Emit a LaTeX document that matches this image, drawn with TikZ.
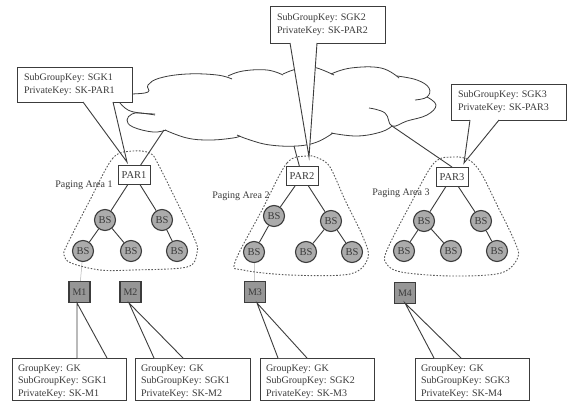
\documentclass[tikz,border=0pt]{standalone}
\usepackage{fontspec}
\setmainfont{Liberation Serif}
\usetikzlibrary{calc}
\frenchspacing
\definecolor{ink}{HTML}{3C3C3C}
\definecolor{txt}{HTML}{3A3A3A}
\definecolor{bsfill}{HTML}{ABABAB}
\definecolor{mfill}{HTML}{969696}
\newcommand{\topstrut}{\rule{0pt}{11.8pt}}
\tikzset{
  base/.style={font=\fontsize{10}{12.8}\selectfont,text=txt},
  link/.style={draw=ink,line width=0.9pt},
  faint/.style={draw=black!30,line width=0.5pt},
  cloudline/.style={draw=ink,line width=0.8pt},
  area/.style={draw=ink!85,line width=0.9pt,dash pattern=on 1.6pt off 1.6pt},
  parbox/.style={base,draw=ink,line width=1pt,fill=white,minimum width=32pt,minimum height=19pt,inner sep=0pt,font=\fontsize{10.5}{12}\selectfont},
  bsnode/.style={base,circle,draw=ink,line width=1.1pt,fill=bsfill,minimum size=21pt,inner sep=0pt,font=\fontsize{10.5}{12}\selectfont},
  mnode/.style={base,draw=ink,line width=1.1pt,fill=mfill,minimum size=21pt,inner sep=0pt},
  keybox/.style={base,draw=ink,line width=0.9pt,fill=white,align=left,inner sep=0pt},
  arealabel/.style={base,inner sep=0pt},
  wedge/.style={fill=white,draw=none}
}
\begin{document}
\begin{tikzpicture}[x=1pt,y=-1pt]
\useasboundingbox (0,0) rectangle (568,402);
\fill[white] (0,0) rectangle (568,402);

% cloud
\fill[white] plot[smooth] coordinates {(120,103)(148,92)(148,85)(160,78)(187,74)(217,75)(243,71)(267,70)(293,70)(317,68)(351,68)(381,68)(417,80)(429,88)(436,105)(427,115)(407,121)(381,132)(357,136)(313,142)(297,146)(270,145)(210,140)(165,131)(133,127)(127,120)(132,113)} -- cycle;
\draw[cloudline] plot[smooth,tension=0.7] coordinates {(120,94)(132,94)(148,92)(148,85)(160,78)(187,74)(217,75)(232,79)};
\draw[cloudline] plot[smooth,tension=0.7] coordinates {(228,76)(243,71)(267,70)(283,75)};
\draw[cloudline] plot[smooth,tension=0.7] coordinates {(283,74)(293,70)(305,67)(317,68)(334,75)};
\draw[cloudline] plot[smooth,tension=0.7] coordinates {(331,74)(351,68)(381,68)(399,78)};
\draw[cloudline] plot[smooth,tension=0.7] coordinates {(397,76)(417,80)(429,88)(427,97)(415,100)};
\draw[cloudline] plot[smooth,tension=0.7] coordinates {(427,97)(436,105)(427,115)(407,121)(392,126)(385,113)(369,108)};
\draw[cloudline] plot[smooth,tension=0.7] coordinates {(392,126)(381,132)(357,136)(331,133)};
\draw[cloudline] plot[smooth,tension=0.7] coordinates {(333,133)(317,142)(297,146)(270,145)(250,140)(237,135)};
\draw[cloudline] plot[smooth,tension=0.7] coordinates {(240,136)(233,138)(210,140)(187,138)(165,130)};
\draw[cloudline] plot[smooth,tension=0.7] coordinates {(166,130)(153,132)(133,127)(127,120)(132,114)(140,113)(155,115)};
\draw[cloudline] plot[smooth,tension=0.7] coordinates {(120,103)(128,110)(140,113)(155,114)};

% nodes of the network
\node[parbox] (par1) at (134,175) {PAR1};
\node[parbox] (par2) at (302,176) {PAR2};
\node[parbox] (par3) at (452,177) {PAR3};

\node[bsnode] (b11) at (105,220) {BS};
\node[bsnode] (b12) at (162,220) {BS};
\node[bsnode] (b13) at (83,251) {BS};
\node[bsnode] (b14) at (131,251) {BS};
\node[bsnode] (b15) at (177,251) {BS};

\node[bsnode] (b21) at (274,216) {BS};
\node[bsnode] (b22) at (331,221) {BS};
\node[bsnode] (b23) at (254,252) {BS};
\node[bsnode] (b24) at (306,252) {BS};
\node[bsnode] (b25) at (352,252) {BS};

\node[bsnode] (b31) at (424,221) {BS};
\node[bsnode] (b32) at (481,221) {BS};
\node[bsnode] (b33) at (404,251) {BS};
\node[bsnode] (b34) at (451,251) {BS};
\node[bsnode] (b35) at (497,251) {BS};

\node[mnode] (m1) at (79.5,292) {M1};
\node[mnode] (m2) at (130.5,292) {M2};
\node[mnode] (m3) at (255,292) {M3};
\node[mnode] (m4) at (405,293) {M4};

% key boxes
\node[keybox,minimum width=115pt,minimum height=35pt,text width=101pt] (k1) at (74.5,84.5) {SubGroupKey: SGK1\\PrivateKey: SK-PAR1};
\node[keybox,minimum width=115pt,minimum height=37pt,text width=101pt] (k2) at (327.5,24.5) {SubGroupKey: SGK2\\PrivateKey: SK-PAR2};
\node[keybox,minimum width=115pt,minimum height=36pt,text width=101pt] (k3) at (508.5,102) {SubGroupKey: SGK3\\PrivateKey: SK-PAR3};
\node[keybox,minimum width=114pt,minimum height=42pt,text width=102pt] (k4) at (69,379) {\topstrut GroupKey: GK\\SubGroupKey: SGK1\\PrivateKey: SK-M1};
\node[keybox,minimum width=115pt,minimum height=42pt,text width=103pt] (k5) at (192.5,379) {\topstrut GroupKey: GK\\SubGroupKey: SGK1\\PrivateKey: SK-M2};
\node[keybox,minimum width=114pt,minimum height=42pt,text width=102pt] (k6) at (317,379) {\topstrut GroupKey: GK\\SubGroupKey: SGK2\\PrivateKey: SK-M3};
\node[keybox,minimum width=114pt,minimum height=42pt,text width=102pt] (k7) at (472,379) {\topstrut GroupKey: GK\\SubGroupKey: SGK3\\PrivateKey: SK-M4};

% callout points
\coordinate (k1a) at (83,102); \coordinate (k1b) at (113,102); \coordinate (k1t) at (127,162);
\coordinate (k2a) at (290,43); \coordinate (k2b) at (317,43); \coordinate (k2t) at (309,157);
\coordinate (k3a) at (470,120); \coordinate (k3b) at (499,120); \coordinate (k3t) at (464,163);
\coordinate (k4a) at (77,358); \coordinate (k4b) at (107,358); \coordinate (k4t) at (77,303);
\coordinate (k5a) at (154,358); \coordinate (k5b) at (183,358); \coordinate (k5t) at (129,303);
\coordinate (k6a) at (278,358); \coordinate (k6b) at (307,358); \coordinate (k6t) at (257,303);
\coordinate (k7a) at (434,358); \coordinate (k7b) at (461,358); \coordinate (k7t) at (405,303);
\foreach \k in {k1,k2,k3,k4,k5,k6,k7}{
  \fill[wedge] (\k a) -- (\k t) -- (\k b) -- cycle;
  \draw[link,line join=miter] (\k a) -- (\k t) -- (\k b);
}

% network links
\coordinate (c1) at (164,130);
\coordinate (c2) at (294,146);
\coordinate (c3) at (392,126);
\draw[link] (c1) -- (par1);
\draw[link] (c2) -- (par2);
\draw[link] (c3) -- (par3.north);
\draw[link] (par1) -- (b11); \draw[link] (par1) -- (b12);
\draw[link] (b11) -- (b13); \draw[link] (b11) -- (b14); \draw[link] (b12) -- (b15);
\draw[link] (par2) -- (b21); \draw[link] (par2) -- (b22);
\draw[link] (b21) -- (b23); \draw[link] (b22) -- (b24); \draw[link] (b22) -- (b25);
\draw[link] (par3) -- (b31); \draw[link] (par3) -- (b32);
\draw[link] (b31) -- (b33); \draw[link] (b31) -- (b34); \draw[link] (b32) -- (b35);
\draw[faint] (b13) -- (m1);
\draw[faint] (b23) -- (m3);

% paging areas
\draw[area] plot[smooth cycle,tension=0.55] coordinates {(133,151)(113,158)(90,200)(67,245)(64,255)(71,263)(100,270)(133,270)(187,267)(197,253)(195,240)(175,198)(157,162)(150,153)};
\draw[area] plot[smooth cycle,tension=0.55] coordinates {(307,156)(287,163)(262,210)(235,262)(243,270)(290,275)(350,274)(368,258)(363,237)(345,200)(330,167)(318,158)};
\draw[area] plot[smooth cycle,tension=0.55] coordinates {(454,157)(434,163)(410,205)(387,250)(386,263)(401,272)(451,276)(501,273)(518,257)(514,240)(497,205)(481,173)(469,160)};

\node[arealabel] (l1) at (84,185) {Paging Area 1};
\node[arealabel] (l2) at (241,196) {Paging Area 2};
\node[arealabel] (l3) at (401,193) {Paging Area 3};
\end{tikzpicture}
\end{document}
